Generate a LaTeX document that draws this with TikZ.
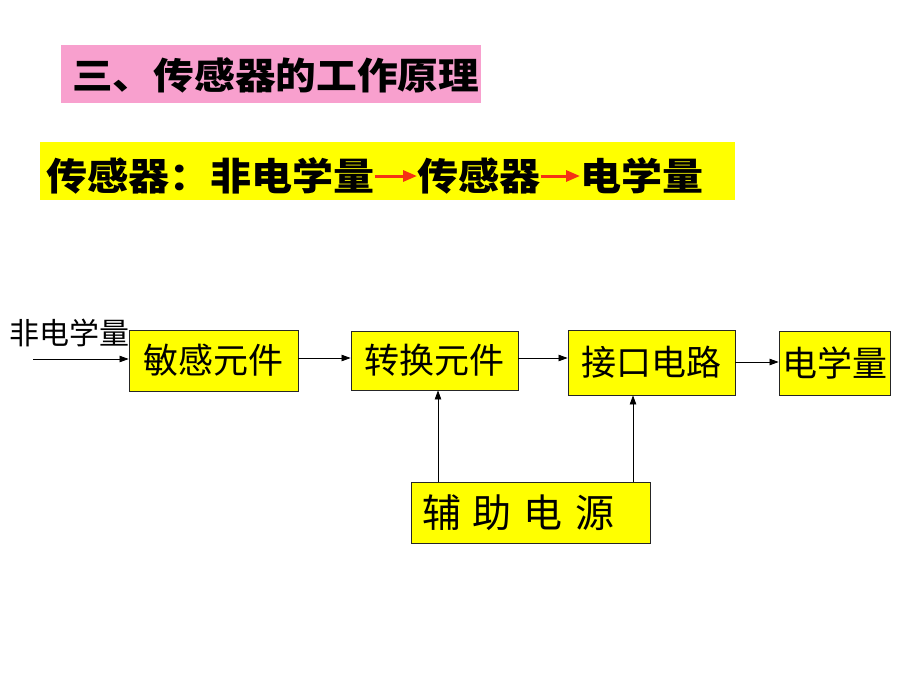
\documentclass[tikz,border=0pt]{standalone}
\usepackage{fontspec}
\setmainfont{Noto Sans CJK SC}
\newfontfamily\cjk{Noto Sans CJK SC}
\usetikzlibrary{arrows.meta}
\definecolor{pinkbg}{RGB}{248,160,206}
\definecolor{ybg}{RGB}{255,255,0}
\definecolor{redarr}{RGB}{245,50,20}
\tikzset{
  x=1pt, y=-1pt,
  ybox/.style={draw=black!85, line width=0.9pt, fill=ybg, inner sep=0pt, font=\cjk\fontsize{35}{38}\selectfont},
  arr/.style={-{Triangle[length=9pt,width=6.5pt]}, line width=0.7pt, black},
  rarr/.style={-{Triangle[length=14pt,width=11pt]}, line width=3pt, redarr},
  lbl/.style={inner sep=0pt, anchor=west},
}
\begin{document}
\begin{tikzpicture}
\useasboundingbox (0,0) rectangle (920,690);
\fill[white] (0,0) rectangle (920,690);
% title
\node[fill=pinkbg, minimum width=420pt, minimum height=58pt, inner sep=0pt] (tbg) at (271,74) {};
\node[lbl, font=\cjk\bfseries\fontsize{37}{40}\selectfont, xscale=1.1] (title) at (72,75) {三、传感器的工作原理};
% line 2
\node[fill=ybg, minimum width=695pt, minimum height=58pt, inner sep=0pt] (l2bg) at (387.5,171) {};
\node[lbl, font=\cjk\bfseries\fontsize{38}{40}\selectfont, xscale=1.08] (t1) at (46,176) {传感器：非电学量};
\node[lbl, font=\cjk\bfseries\fontsize{38}{40}\selectfont, xscale=1.08] (t2) at (417,176) {传感器};
\node[lbl, font=\cjk\bfseries\fontsize{38}{40}\selectfont, xscale=1.08] (t3) at (580,176) {电学量};
\draw[rarr] (t1.east) -- (t2.west);
\draw[rarr] (t2.east) -- (t3.west);
% diagram
\node[lbl, font=\cjk\fontsize{30}{32}\selectfont] (inp) at (9,333) {非电学量};
\coordinate (ins) at (33,359);
\node[ybox, minimum width=169pt, minimum height=61pt] (m) at (213.5,360.5) {敏感元件};
\node[ybox, minimum width=167pt, minimum height=59pt] (z) at (434.5,360.5) {转换元件};
\node[ybox, minimum width=167pt, minimum height=65pt] (j) at (651.5,362.5) {接口电路};
\node[ybox, minimum width=111pt, minimum height=64pt] (d) at (834.5,363) {电学量};
\node[ybox, minimum height=61pt, text width=217pt, inner xsep=11pt, align=left, font=\cjk\fontsize{39}{42}\selectfont] (f) at (530.5,512.5) {辅\hspace{12pt}助\hspace{12pt}电\hspace{12pt}源};
\coordinate (v1) at (438,0);
\coordinate (v2) at (633,0);
\coordinate (h1) at (0,358);
\coordinate (h2) at (0,362);
\draw[arr] (ins) -- (ins -| m.west);
\draw[arr] (m.east |- h1) -- (z.west |- h1);
\draw[arr] (z.east |- h1) -- (j.west |- h1);
\draw[arr] (j.east |- h2) -- (d.west |- h2);
\draw[arr] (f.north -| v1) -- (z.south -| v1);
\draw[arr] (f.north -| v2) -- (j.south -| v2);
\end{tikzpicture}
\end{document}
